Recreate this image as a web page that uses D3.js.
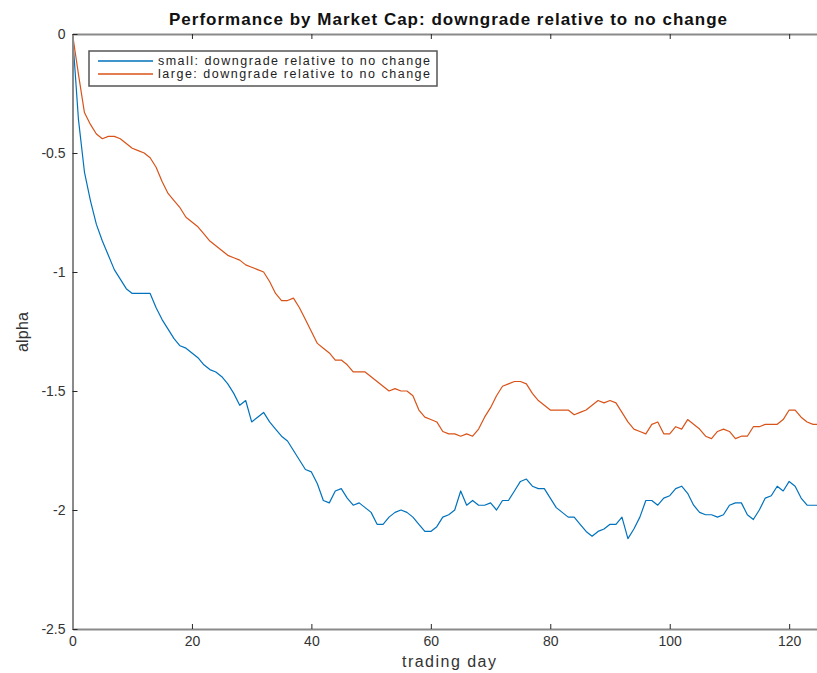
<!DOCTYPE html>
<html>
<head>
<meta charset="utf-8">
<script src="https://cdn.jsdelivr.net/npm/d3@7/dist/d3.min.js"></script>
<style>
html,body{margin:0;padding:0;background:#fff;overflow:hidden;}
text{font-family:"Liberation Sans",Arial,Helvetica,sans-serif;}
</style>
</head>
<body>
<svg id="chart" width="817" height="673"></svg>
<script>
const titleText = "Performance by Market Cap: downgrade relative to no change";
const xLabel = "trading day";
const yLabel = "alpha";
const seriesNames = ["small: downgrade relative to no change", "large: downgrade relative to no change"];
const seriesColors = ["#0072BD", "#D95319"];
const xTicks = [0, 20, 40, 60, 80, 100, 120];
const yTicks = [0, -0.5, -1, -1.5, -2, -2.5];
const yTickLabels = ["0", "-0.5", "-1", "-1.5", "-2", "-2.5"];

const small = [0,-0.36,-0.58,-0.70,-0.80,-0.87,-0.93,-0.99,-1.03,-1.07,
-1.09,-1.09,-1.09,-1.09,-1.15,-1.20,-1.24,-1.28,-1.31,-1.32,
-1.34,-1.36,-1.39,-1.41,-1.42,-1.44,-1.47,-1.51,-1.56,-1.54,
-1.63,-1.61,-1.59,-1.63,-1.66,-1.69,-1.71,-1.75,-1.79,-1.83,
-1.84,-1.89,-1.96,-1.97,-1.92,-1.91,-1.95,-1.98,-1.97,-1.99,
-2.01,-2.06,-2.06,-2.03,-2.01,-2.00,-2.01,-2.03,-2.06,-2.09,
-2.09,-2.07,-2.03,-2.02,-2.00,-1.92,-1.98,-1.96,-1.98,-1.98,
-1.97,-2.00,-1.96,-1.96,-1.92,-1.88,-1.87,-1.90,-1.91,-1.91,
-1.95,-1.99,-2.01,-2.03,-2.03,-2.06,-2.09,-2.11,-2.09,-2.08,
-2.06,-2.06,-2.03,-2.12,-2.08,-2.03,-1.96,-1.96,-1.98,-1.95,
-1.94,-1.91,-1.90,-1.93,-1.98,-2.01,-2.02,-2.02,-2.03,-2.02,
-1.98,-1.97,-1.97,-2.02,-2.04,-2.00,-1.95,-1.94,-1.90,-1.92,
-1.88,-1.90,-1.95,-1.98,-1.98,-1.98,-1.97];

const large = [0,-0.17,-0.33,-0.38,-0.42,-0.44,-0.43,-0.43,-0.44,-0.46,
-0.48,-0.49,-0.50,-0.52,-0.56,-0.62,-0.67,-0.70,-0.73,-0.77,
-0.79,-0.81,-0.84,-0.87,-0.89,-0.91,-0.93,-0.94,-0.95,-0.97,
-0.98,-0.99,-1.00,-1.04,-1.09,-1.12,-1.12,-1.11,-1.15,-1.20,
-1.25,-1.30,-1.32,-1.34,-1.37,-1.37,-1.39,-1.42,-1.42,-1.42,
-1.44,-1.46,-1.48,-1.50,-1.49,-1.50,-1.50,-1.52,-1.58,-1.61,
-1.62,-1.63,-1.67,-1.68,-1.68,-1.69,-1.68,-1.69,-1.66,-1.61,
-1.57,-1.52,-1.48,-1.47,-1.46,-1.46,-1.47,-1.51,-1.54,-1.56,
-1.58,-1.58,-1.58,-1.58,-1.60,-1.59,-1.58,-1.56,-1.54,-1.55,
-1.54,-1.55,-1.59,-1.63,-1.66,-1.67,-1.68,-1.64,-1.63,-1.68,
-1.68,-1.65,-1.66,-1.62,-1.64,-1.66,-1.69,-1.70,-1.67,-1.66,
-1.67,-1.70,-1.69,-1.69,-1.65,-1.65,-1.64,-1.64,-1.64,-1.62,
-1.58,-1.58,-1.61,-1.63,-1.64,-1.64,-1.65];

const svg = d3.select("#chart");
const L = 72.5, R = 825, T = 34, B = 629;
const x = d3.scaleLinear().domain([0, 126]).range([L, R]);
const y = d3.scaleLinear().domain([-2.5, 0]).range([B, T]);

const axisColor = "#262626";

svg.append("defs").append("clipPath").attr("id","clip")
  .append("rect").attr("x", L).attr("y", T).attr("width", R - L).attr("height", B - T);

const line = d3.line().x((d,i)=>x(i)).y(d=>y(d));
[small, large].forEach((s, k) => {
  svg.append("path").datum(s)
    .attr("clip-path","url(#clip)")
    .attr("fill","none")
    .attr("stroke", seriesColors[k])
    .attr("stroke-width", 1.2)
    .attr("stroke-linejoin","round")
    .attr("d", line);
});

const bottomAxis = d3.axisBottom(x).tickValues(xTicks).tickSize(-5).tickSizeOuter(0).tickPadding(7).tickFormat(d3.format("d"));
const topAxis = d3.axisTop(x).tickValues(xTicks).tickSize(-5).tickSizeOuter(0).tickFormat("");
const leftAxis = d3.axisLeft(y).tickValues(yTicks).tickSize(-5).tickSizeOuter(0).tickPadding(7).tickFormat((d,i)=>yTickLabels[i]);
const rightAxis = d3.axisRight(y).tickValues(yTicks).tickSize(-5).tickSizeOuter(0).tickFormat("");

function styleAxis(g){
  g.select(".domain").attr("stroke","#8a8a8a").attr("stroke-width",2);
  g.selectAll(".tick line").attr("stroke",axisColor).attr("stroke-width",1);
  g.selectAll(".tick text").attr("fill","#333").attr("font-size",14)
    .attr("font-family","'Liberation Sans',Arial,sans-serif");
}
svg.append("g").attr("transform",`translate(0,${B})`).call(bottomAxis).call(styleAxis);
svg.append("g").attr("transform",`translate(0,${T})`).call(topAxis).call(styleAxis);
svg.append("g").attr("transform",`translate(${L},0)`).call(leftAxis).call(styleAxis);
svg.append("g").attr("transform",`translate(${R},0)`).call(rightAxis).call(styleAxis);

svg.append("text").attr("x", 448).attr("y", 25).attr("text-anchor","middle")
  .attr("font-size", 17).attr("font-weight","bold").attr("fill","#111")
  .attr("textLength", 558).attr("lengthAdjust","spacing").text(titleText);

svg.append("text").attr("x", 449).attr("y", 667).attr("text-anchor","middle")
  .attr("font-size", 16).attr("fill","#333")
  .attr("textLength", 94).attr("lengthAdjust","spacing").text(xLabel);
svg.append("text").attr("transform","translate(28,332) rotate(-90)").attr("text-anchor","middle")
  .attr("font-size", 16).attr("fill","#333")
  .attr("textLength", 40).attr("lengthAdjust","spacing").text(yLabel);

const lg = svg.append("g");
lg.append("rect").attr("x", 89).attr("y", 51).attr("width", 348).attr("height", 35)
  .attr("fill","#fff").attr("stroke","#555").attr("stroke-width",1.5);
seriesNames.forEach((n, k) => {
  const yy = 61 + k * 13;
  lg.append("line").attr("x1", 98).attr("x2", 153).attr("y1", yy).attr("y2", yy)
    .attr("stroke", seriesColors[k]).attr("stroke-width", 1.5);
  lg.append("text").attr("x", 158).attr("y", yy + 4).attr("font-size", 12.5).attr("fill","#222")
    .attr("textLength", 272).attr("lengthAdjust","spacing").text(n);
});
</script>
</body>
</html>
